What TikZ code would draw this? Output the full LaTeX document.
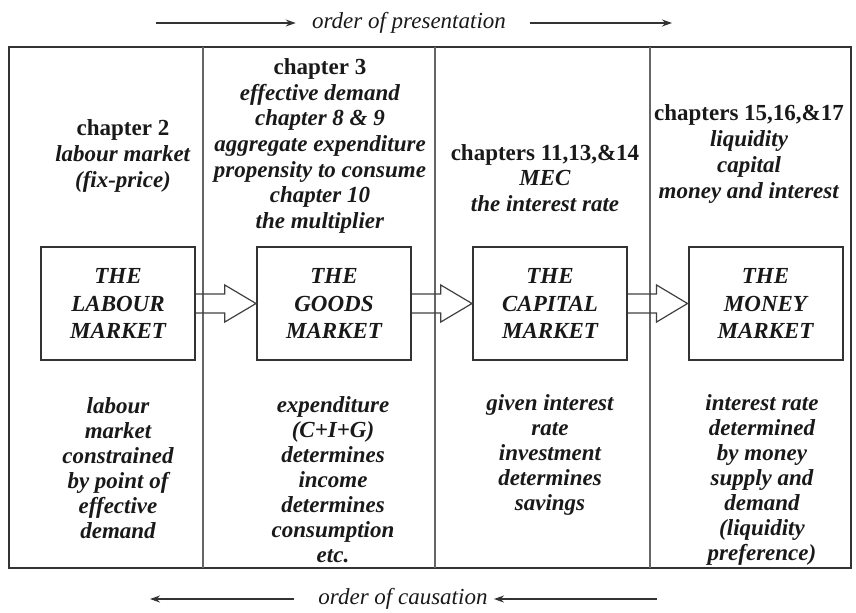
\documentclass[tikz,border=0pt]{standalone}
\usepackage{fontspec}
\setmainfont{Liberation Serif}
\usetikzlibrary{calc,arrows.meta}
\newcommand\colfont{\fontsize{11.5}{12.85}\selectfont}
\newcommand\lowfont{\fontsize{11.5}{12.5}\selectfont}
\newcommand\boxfont{\fontsize{11.5}{13.7}\selectfont}
\def\blockarrow(#1)(#2){\draw[line width=0.6pt, color=black!75]
  ($(#1.east)+(0,-9.5)$) -- ($(#1.east)!0.48!(#2.west)+(0,-9.5)$) --
  ($(#1.east)!0.48!(#2.west)+(0,-18.5)$) -- (#2.west) --
  ($(#1.east)!0.48!(#2.west)+(0,18.5)$) -- ($(#1.east)!0.48!(#2.west)+(0,9.5)$) --
  ($(#1.east)+(0,9.5)$);}

\begin{document}
\begin{tikzpicture}[x=0.5pt, y=-0.5pt,
    mkt/.style={draw, line width=1pt, color=black!80, text=black!90, minimum width=77pt,
      minimum height=56.5pt, inner sep=0pt, align=center, font=\bfseries\itshape\boxfont},
    txt/.style={align=center, inner sep=0pt, text=black!90, font=\bfseries\colfont},
    low/.style={txt, font=\bfseries\itshape\lowfont},
    flow/.style={line width=0.7pt, color=black!80, -{Stealth[length=5pt,width=3.5pt]}}]
			%%%%% START %%%%%
			\useasboundingbox (0,0) rectangle (856,612);
			
			\draw[line width=1.1pt, color=black!80] (9,47) rectangle (851,568);
			\foreach \x in {203,435,650}
			\draw[line width=0.7pt, color=black!60] (\x,47) -- (\x,568);
			
			% order arrows
			\node[inner sep=3pt, text=black!90, font=\itshape\fontsize{11.5}{12}\selectfont] (present) at (409,23) {order of presentation};
			\coordinate (pa) at (156,23);
			\coordinate (pb) at (672,23);
			\draw[flow, shorten >=5pt] (pa) -- (present.west);
			\draw[flow, shorten <=9pt] (present.east) -- (pb);
			
			\node[inner sep=3pt, text=black!90, font=\itshape\fontsize{11.5}{12}\selectfont] (cause) at (403,599) {order of causation};
			\coordinate (qa) at (150,599);
			\coordinate (qb) at (667,599);
			\draw[flow, shorten <=9pt] (cause.west) -- (qa);
			\draw[flow, shorten <=5pt] (qb) -- (cause.east);
			
			% chapters
			\node[txt] (labtop) at (123,156) {chapter 2\\\textit{labour market}\\\textit{(fix-price)}};
			\node[txt] (goodtop) at (320,146) {chapter 3\\\textit{effective demand}\\\textit{chapter 8 \& 9}\\\textit{aggregate expenditure}\\\textit{propensity to consume}\\\textit{chapter 10}\\\textit{the multiplier}};
			\node[txt] (captop) at (545,178) {chapters 11,13,\&14\\\textit{MEC}\\\textit{the interest rate}};
			\node[txt] (montop) at (749,154) {chapters 15,16,\&17\\\textit{liquidity}\\\textit{capital}\\\textit{money and interest}};
			
			% markets
			\node[mkt] (labour) at (118,303.5) {THE\\LABOUR\\MARKET};
			\node[mkt] (goods) at (334,303.5) {THE\\GOODS\\MARKET};
			\node[mkt] (capital) at (550,303.5) {THE\\CAPITAL\\MARKET};
			\node[mkt] (money) at (765.5,303.5) {THE\\MONEY\\MARKET};
			
			\blockarrow(labour)(goods)
			\blockarrow(goods)(capital)
			\blockarrow(capital)(money)
			
			% causation
			\node[low] (labbot) at (118,468) {labour\\market\\constrained\\by point of\\effective\\demand};
			\node[low] (goodbot) at (333,480) {expenditure\\(C+I+G)\\determines\\income\\determines\\consumption\\etc.};
			\node[low] (capbot) at (550,455) {given interest\\rate\\investment\\determines\\savings};
			\node[low] (monbot) at (762,480) {interest rate\\determined\\by money\\supply and\\demand\\(liquidity\\preference)};
			
			%%%%% END %%%%%
\end{tikzpicture}
\end{document}
